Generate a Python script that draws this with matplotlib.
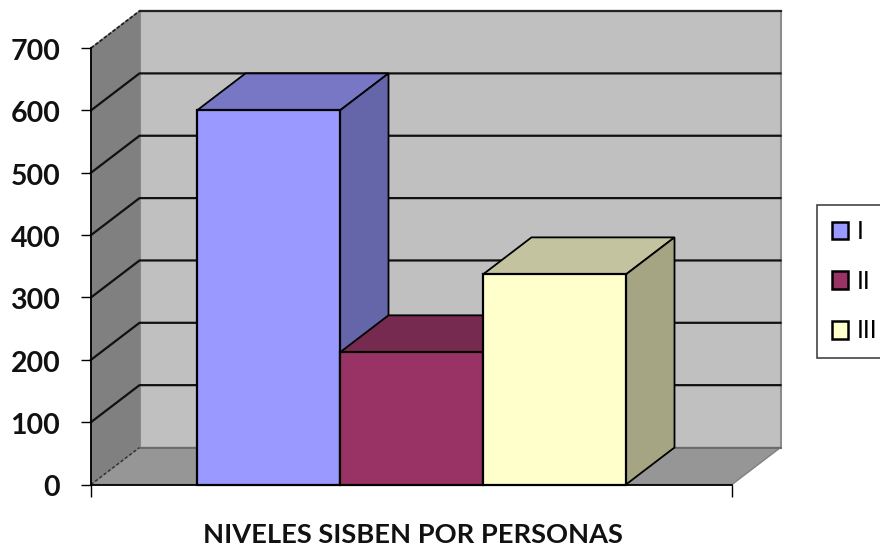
import matplotlib
matplotlib.use('Agg')
import matplotlib.pyplot as plt
from matplotlib.patches import Patch, Polygon
from matplotlib.transforms import ScaledTranslation

plt.rcParams['font.family'] = ['Lato', 'DejaVu Sans']

categories = ['I', 'II', 'III']
values = [600, 212, 337]
y_ticks = [0, 100, 200, 300, 400, 500, 600, 700]
x_label = 'NIVELES SISBEN POR PERSONAS'

front_colors = ['#9999ff', '#993366', '#ffffcc']
top_colors = ['#7777c6', '#772a4f', '#c3c39f']
side_colors = ['#6565a9', '#662244', '#a5a583']

# x in bars, y in values; the limits put the plot where it sits in the picture
px_per_x = 143.0
px_per_y = 0.6235
x0_px = 268.5
y0_px = 484.5
depth_x = 48.5 / px_per_x
depth_y = 37.0 / px_per_y
x_left = (91 - x0_px) / px_per_x
x_right = (732 - x0_px) / px_per_x
y_top = 700

fig = plt.figure(figsize=(8.8, 5.46), dpi=100)
ax = fig.add_axes([0, 0, 1, 1])
ax.set_xlim(-x0_px / px_per_x, (880 - x0_px) / px_per_x)
ax.set_ylim((y0_px - 546) / px_per_y, y0_px / px_per_y)
ax.patch.set_visible(False)


def box_face(pts, color, z, ec='black', lw=1.3):
    ax.add_patch(Polygon(pts, closed=True, facecolor=color, edgecolor=ec,
                         linewidth=lw, joinstyle='miter', zorder=z))


# Walls and floor
box_face([(x_left + depth_x, depth_y), (x_right + depth_x, depth_y),
          (x_right + depth_x, y_top + depth_y), (x_left + depth_x, y_top + depth_y)],
         '#c0c0c0', 1, ec='#8c8c8c', lw=1.5)
box_face([(x_left, 0), (x_left + depth_x, depth_y),
          (x_left + depth_x, y_top + depth_y), (x_left, y_top)],
         '#808080', 1, ec='#808080', lw=1)
box_face([(x_left, 0), (x_right, 0), (x_right + depth_x, depth_y),
          (x_left + depth_x, depth_y)],
         '#969696', 1, ec='#808080', lw=1)

# Gridlines
for t in y_ticks[1:-1]:
    ax.plot([x_left, x_left + depth_x, x_right + depth_x],
            [t, t + depth_y, t + depth_y], color='#111111', lw=1.6, zorder=2)
ax.plot([x_left + depth_x, x_right + depth_x], [y_top + depth_y] * 2,
        color='#222222', lw=1.6, zorder=2)
ax.plot([x_left, x_left + depth_x], [y_top, y_top + depth_y],
        color='#222222', lw=1.3, ls=(0, (2, 1)), zorder=2)
ax.plot([x_left, x_left + depth_x], [0, depth_y],
        color='#333333', lw=1.1, ls=(0, (2, 1.5)), zorder=2)
ax.plot([x_left + depth_x, x_right + depth_x], [depth_y, depth_y],
        color='#666666', lw=1.2, zorder=2)

# Bars
for i, v in enumerate(values):
    l, r = i - 0.5, i + 0.5
    z = 3 + i
    box_face([(l, v), (r, v), (r + depth_x, v + depth_y), (l + depth_x, v + depth_y)],
             top_colors[i], z)
    box_face([(r, 0), (r + depth_x, depth_y), (r + depth_x, v + depth_y), (r, v)],
             side_colors[i], z)
    box_face([(l, 0), (r, 0), (r, v), (l, v)], front_colors[i], z, lw=1.6)

# Axes lines, ticks and labels
for s in ['top', 'right']:
    ax.spines[s].set_visible(False)
ax.spines['left'].set_position(('data', x_left))
ax.spines['left'].set_bounds(0, y_top)
ax.spines['bottom'].set_position(('data', 0))
ax.spines['bottom'].set_bounds(x_left, x_right)
ax.spines['left'].set_linewidth(1.3)
ax.spines['bottom'].set_linewidth(1.3)
ax.spines['left'].set_zorder(8)
ax.spines['bottom'].set_zorder(8)
ax.set_yticks(y_ticks)
ax.set_xticks([x_left, x_right])
ax.set_xticklabels([])
ax.tick_params(axis='y', length=7.2, width=1, pad=15, labelsize=20.5)
ax.tick_params(axis='x', length=8.5, width=1)
for lab in ax.get_yticklabels():
    lab.set_fontweight('bold')
    lab.set_color('#111111')
    lab.set_transform(lab.get_transform() + ScaledTranslation(0, -1.5 / 100, fig.dpi_scale_trans))

ax.text((412.5 - x0_px) / px_per_x, (y0_px - 535) / px_per_y, x_label,
        ha='center', va='center', fontsize=19.6, fontweight='bold', color='#111111')

# Legend runs off the right edge like the original
handles = [Patch(facecolor=c, edgecolor='black', linewidth=1.8) for c in front_colors]
leg = ax.legend(handles, categories, loc='upper left',
                bbox_to_anchor=(817 / 880, 1 - 205 / 546), fontsize=18,
                handlelength=0.64, handleheight=0.7, handletextpad=0.36,
                labelspacing=1.07, borderpad=0.6, borderaxespad=0,
                fancybox=False, edgecolor='#444444', framealpha=1)
leg.get_frame().set_linewidth(1.2)

fig.savefig('out.png', dpi=100)
